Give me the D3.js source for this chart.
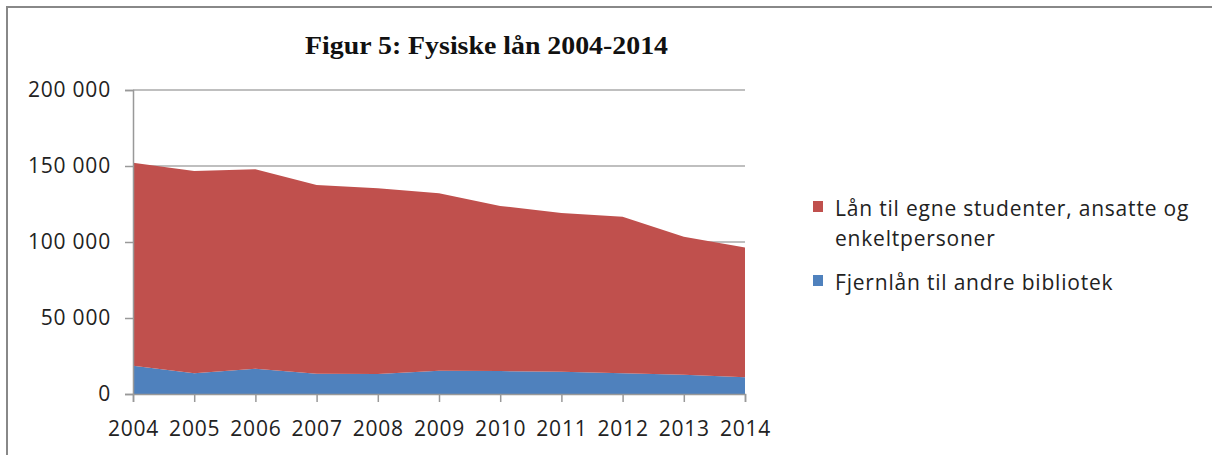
<!DOCTYPE html>
<html>
<head>
<meta charset="utf-8">
<script src="https://cdn.jsdelivr.net/npm/d3@7"></script>
<style>
  body { margin: 0; background: #fff; }
  svg { display: block; }
</style>
</head>
<body>
<div id="graph"></div>
<script>
// data
var years = [2004, 2005, 2006, 2007, 2008, 2009, 2010, 2011, 2012, 2013, 2014];
var fjernlan = [18600, 13600, 16600, 13400, 13200, 15300, 15100, 14700, 13600, 12700, 11000];
var egneLan = [133600, 133100, 131200, 124100, 122100, 116700, 108600, 104400, 103000, 90800, 85300];
var yTicks = [0, 50000, 100000, 150000, 200000];
var colors = ["#C0504D", "#4F81BD"];

var width = 1212, height = 455;

var svg = d3.select("#graph").append("svg")
  .attr("width", width)
  .attr("height", height);

// frame
svg.append("path")
  .attr("d", "M7,455 L7,7 L1212,7")
  .attr("fill", "none")
  .attr("stroke", "#888")
  .attr("stroke-width", 2);

// title
svg.append("text")
  .attr("x", 305)
  .attr("y", 54)
  .attr("textLength", 363)
  .attr("lengthAdjust", "spacingAndGlyphs")
  .style("font-family", "Liberation Serif")
  .style("font-weight", "bold")
  .style("font-size", "26px")
  .style("fill", "#111")
  .text("Figur 5: Fysiske lån 2004-2014");

var x = d3.scaleLinear().domain([2004, 2014]).range([133, 745]);
var y = d3.scaleLinear().domain([0, 200000]).range([394, 90]);

// gridlines
svg.append("g")
  .selectAll("line")
  .data(yTicks.slice(1))
  .enter()
  .append("line")
  .attr("x1", x(2004))
  .attr("x2", x(2014))
  .attr("y1", function(d){ return y(d); })
  .attr("y2", function(d){ return y(d); })
  .attr("stroke", "#aaa")
  .attr("stroke-width", 1.5);

// stacked areas
var rows = years.map(function(yr, i){
  return { year: yr, fjern: fjernlan[i], egne: egneLan[i] };
});
var stack = d3.stack().keys(["fjern", "egne"]);
var layers = stack(rows);

var area = d3.area()
  .x(function(d){ return x(d.data.year); })
  .y0(function(d){ return y(d[0]); })
  .y1(function(d){ return y(d[1]); });

svg.append("g")
  .selectAll("path")
  .data(layers)
  .enter()
  .append("path")
  .attr("d", area)
  .attr("fill", function(d, i){ return i == 0 ? colors[1] : colors[0]; });

// y axis
var yAxis = svg.append("g")
  .attr("transform", "translate(" + x(2004) + ",0)")
  .call(d3.axisLeft(y)
    .tickValues(yTicks)
    .tickSize(8)
    .tickPadding(14)
    .tickFormat(function(d){ return d3.format(",")(d).replace(/,/g, " "); }));

// x axis
var xAxis = svg.append("g")
  .attr("transform", "translate(0," + y(0) + ")")
  .call(d3.axisBottom(x)
    .tickValues(years)
    .tickSize(8)
    .tickPadding(19)
    .tickFormat(d3.format("d")));

[yAxis, xAxis].forEach(function(ax){
  ax.select(".domain").attr("stroke", "#999").attr("stroke-width", 1.5);
  ax.selectAll(".tick line").attr("stroke", "#999").attr("stroke-width", 1.5);
  ax.selectAll("text")
    .style("font-family", "Open Sans")
    .style("font-size", "21px")
    .style("letter-spacing", "0.8px")
    .style("fill", "#222");
});

// legend
var legend = svg.append("g");
var legendItems = [
  { lines: ["Lån til egne studenter, ansatte og", "enkeltpersoner"], color: colors[0], y: 216 },
  { lines: ["Fjernlån til andre bibliotek"], color: colors[1], y: 290 }
];
legendItems.forEach(function(item){
  legend.append("rect")
    .attr("x", 813)
    .attr("y", item.y - 15)
    .attr("width", 10)
    .attr("height", 11)
    .attr("fill", item.color);
  item.lines.forEach(function(t, j){
    legend.append("text")
      .attr("x", 835)
      .attr("y", item.y + j * 30)
      .style("font-family", "Open Sans")
      .style("font-size", "21px")
      .style("letter-spacing", "0.8px")
      .style("fill", "#222")
      .text(t);
  });
});
</script>
</body>
</html>
